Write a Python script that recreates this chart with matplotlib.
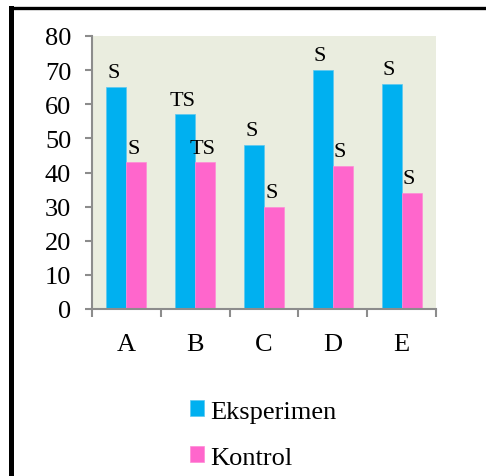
import matplotlib.pyplot as plt
import numpy as np
from matplotlib.lines import Line2D

plt.rcParams['font.family'] = ['Liberation Serif', 'DejaVu Serif']

# data
groups = ['A', 'B', 'C', 'D', 'E']
eksperimen = [65, 57, 48, 70, 66]
kontrol = [43, 43, 30, 42, 34]
lbl_eks = ['S', 'TS', 'S', 'S', 'S']
lbl_kon = ['S', 'TS', 'S', 'S', 'S']

blue = '#00b0f0'
pink = '#ff66cc'
grey = '#8c8c8c'

fig = plt.figure(figsize=(4.86, 4.77), dpi=100)
ax = fig.add_axes([92/486, 1-310/477, 344/486, 273/477])
ax.set_facecolor('#eaeddf')

x = np.arange(len(groups))
w = 0.29
b1 = ax.bar(x - w/2, eksperimen, w, color=blue, edgecolor='#5cc8f0', linewidth=0.5, label='Eksperimen', zorder=2)
b2 = ax.bar(x + w/2, kontrol, w, color=pink, edgecolor='#ff8ad6', linewidth=0.5, label='Kontrol', zorder=2)

for bars, labs in [(b1, lbl_eks), (b2, lbl_kon)]:
    for r, t in zip(bars, labs):
        ax.annotate(t, (r.get_x() + r.get_width()/2, r.get_height()),
                    xytext=(-2, 7), textcoords='offset points',
                    ha='center', va='baseline', fontsize=16)

ax.set_xlim(-0.5, len(groups) - 0.5)
ax.set_ylim(0, 80)
ax.set_yticks(range(0, 81, 10))
ax.set_xticks(np.arange(-0.5, len(groups), 1))
ax.set_xticklabels([])
ax.set_xticks(x, minor=True)
ax.set_xticklabels(groups, minor=True)
ax.tick_params(axis='x', which='major', length=6, width=1.5, color=grey, direction='out')
ax.tick_params(axis='x', which='minor', length=0, pad=17, labelsize=19)
ax.tick_params(axis='y', length=5, width=1.5, color=grey, pad=10, labelsize=19)
for s in ['top', 'right']:
    ax.spines[s].set_visible(False)
for s in ['left', 'bottom']:
    ax.spines[s].set_color(grey)
    ax.spines[s].set_linewidth(1.5)

fig.legend(handles=[b1, b2], loc='center', bbox_to_anchor=(263/486, 1-435.5/477),
           frameon=False, fontsize=19, handlelength=0.55, handleheight=0.55,
           handletextpad=0.2, labelspacing=0.9)

# black frame on left and top
fig.add_artist(Line2D([10.5/486, 10.5/486], [0, 1-8.5/477], color='black', linewidth=3.6, solid_capstyle='projecting'))
fig.add_artist(Line2D([10.5/486, 1], [1-8.5/477, 1-8.5/477], color='black', linewidth=2.4, solid_capstyle='projecting'))

fig.savefig('out.png', dpi=100)
